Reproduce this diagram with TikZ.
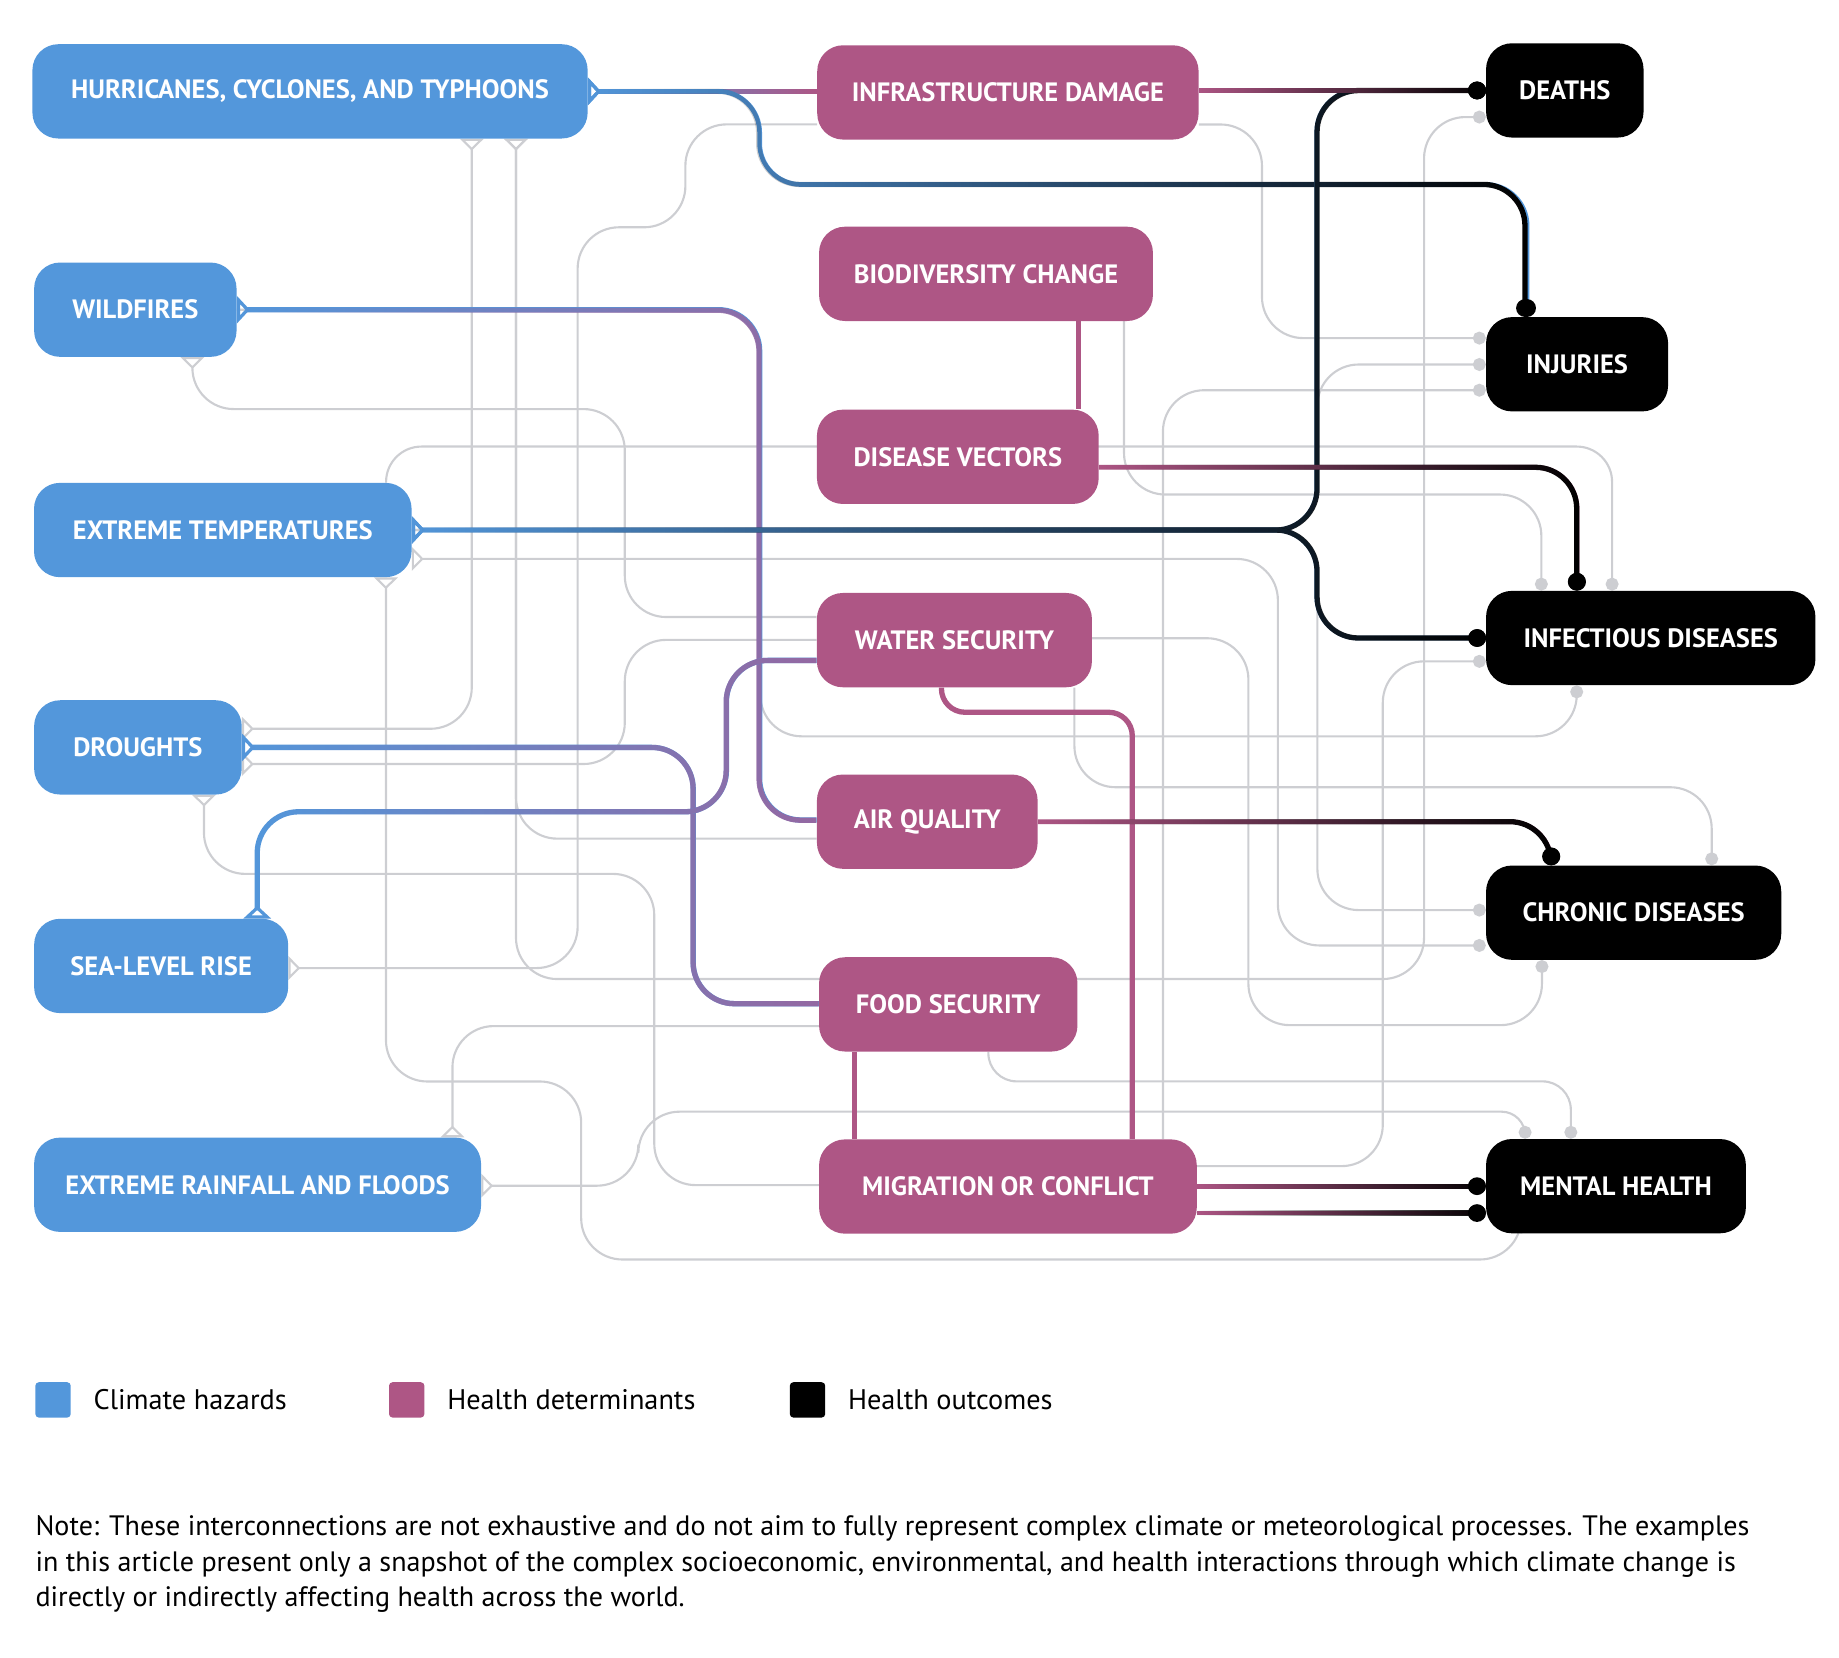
\documentclass[tikz,border=0pt]{standalone}
\usepackage{fontspec}
\setmainfont{PT Sans}
\usepackage{xcolor}
\usetikzlibrary{arrows.meta, positioning, fadings}

\definecolor{hazblue}{HTML}{5397DB}
\definecolor{detmag}{HTML}{AE5685}
\definecolor{linkpurple}{HTML}{9468A2}
\definecolor{linkgray}{HTML}{CDCED2}

\tikzfading[name=fadein, left color=transparent!100, right color=transparent!0]
\pgfdeclarelayer{back}
\pgfsetlayers{back,main}

\tikzset{
  gtri/.tip={Triangle[open, reversed, length=10pt, width=20pt]},
  ctri/.tip={Triangle[open, reversed, length=11pt, width=23pt]},
  gdot/.tip={Circle[length=11pt]},
  bdot/.tip={Circle[length=15pt, color=black]},
}

\begin{document}
\begin{tikzpicture}[x=1pt, y=-1pt,
    box/.style={rectangle, rounded corners=22pt, minimum height=80pt, inner sep=0pt, text=white, font=\fontsize{22.5}{26}\selectfont\bfseries},
    hazard/.style={box, fill=hazblue},
    determ/.style={box, fill=detmag},
    outcome/.style={box, fill=black},
    gline/.style={draw=linkgray, line width=1.8pt, rounded corners=35pt},
    cline/.style={line width=4.5pt, rounded corners=35pt},
    grad/.style 2 args={draw=#1, postaction={draw=#2, line width=4.5pt, path fading=fadein}},
    gradot/.style 2 args={grad={#1}{#2}, line width=4pt},
    legsq/.style={rectangle, rounded corners=3pt, minimum size=30pt, inner sep=0pt},
    legtext/.style={inner sep=0pt, font=\fontsize{24}{28}\selectfont},
    notetext/.style={inner sep=0pt, anchor=base west, font=\fontsize{23.8}{30}\selectfont}]
    \useasboundingbox (0,0) rectangle (1560,1405.7);

    % Nodes
    \node[hazard, minimum width=471pt] (hur) at (263,77.5) {HURRICANES, CYCLONES, AND TYPHOONS};
    \node[hazard, minimum width=171.7pt] (wild) at (114.8,262.7) {WILDFIRES};
    \node[hazard, minimum width=320.3pt] (temp) at (189,449.6) {EXTREME TEMPERATURES};
    \node[hazard, minimum width=176.1pt] (drought) at (117,634) {DROUGHTS};
    \node[hazard, minimum width=215.5pt] (sea) at (136.7,819.4) {SEA-LEVEL RISE};
    \node[hazard, minimum width=379.1pt] (rain) at (218.5,1005) {EXTREME RAINFALL AND FLOODS};

    \node[determ, minimum width=323.5pt] (infra) at (855,78.4) {INFRASTRUCTURE DAMAGE};
    \node[determ, minimum width=283.2pt] (bio) at (836.4,232.3) {BIODIVERSITY CHANGE};
    \node[determ, minimum width=239pt] (vectors) at (812.5,387.5) {DISEASE VECTORS};
    \node[determ, minimum width=233.3pt] (water) at (809.6,543) {WATER SECURITY};
    \node[determ, minimum width=187.2pt] (air) at (786.6,697) {AIR QUALITY};
    \node[determ, minimum width=219.2pt] (food) at (804.4,852) {FOOD SECURITY};
    \node[determ, minimum width=320.4pt] (migr) at (855,1006.5) {MIGRATION OR CONFLICT};

    \node[outcome, minimum width=133.6pt] (deaths) at (1327.4,76.7) {DEATHS};
    \node[outcome, minimum width=154.4pt] (injuries) at (1337.8,309) {INJURIES};
    \node[outcome, minimum width=279.4pt] (infect) at (1400.3,541.2) {INFECTIOUS DISEASES};
    \node[outcome, minimum width=250.4pt] (chronic) at (1385.8,774.2) {CHRONIC DISEASES};
    \node[outcome, minimum width=220.4pt] (mental) at (1370.8,1006.2) {MENTAL HEALTH};

    % Legend
    \node[legsq, fill=hazblue] (leghaz) at (45,1187.5) {};
    \node[legtext, right=19pt of leghaz] {Climate hazards};
    \node[legsq, fill=detmag] (legdet) at (345,1187.5) {};
    \node[legtext, right=19pt of legdet] {Health determinants};
    \node[legsq, fill=black] (legout) at (685,1187.5) {};
    \node[legtext, right=19pt of legout] {Health outcomes};

    % Note
    \node[notetext] (note1) at (30,1302.6) {Note: These interconnections are not exhaustive and do not aim to fully represent complex climate or meteorological processes. The examples};
    \node[notetext] (note2) at (30,1333) {in this article present only a snapshot of the complex socioeconomic, environmental, and health interactions through which climate change is};
    \node[notetext] (note3) at (30,1362.8) {directly or indirectly affecting health across the world.};

    % Edges
    \begin{pgfonlayer}{back}
    % grey links
    \draw[gline, gtri-gtri] (hur.south -| 400.2,0) |- (drought.east |- 0,618.2);
    \draw[gline, gtri-] (hur.south -| 437.7,0) |- (air.west |- 0,711.4);
    \draw[gline, gtri-gdot] (hur.south -| 437.7,0) |- (1208,830.5) |- (deaths.west |- 0,99.3);
    \draw[gline, gtri-] (wild.south -| 163.2,0) |- (530,347) |- (water.west |- 0,523.4);
    \draw[gline, -gdot] (wild.east) -| (645,624.6) -| (infect.south -| 1337.5,0);
    \draw[gline, -gdot, rounded corners=30pt] (temp.north -| 327.5,0) |- (1367.5,378.8) -- (infect.north -| 1367.5,0);
    \draw[gline, gtri-gdot] (temp.east |- 0,474.1) -| (1084,802) -- (chronic.west |- 0,802);
    \draw[gline, -gdot] (temp.east) -| (1117.5,309.2) -- (injuries.west |- 0,309.2);
    \draw[gline, -gdot] (temp.east) -| (1117.5,772) -- (chronic.west |- 0,772);
    \draw[gline, gtri-gdot] (temp.south -| 327.4,0) |- (493,917.4) |- (1290.4,1068.4) [rounded corners=18pt] -- (mental.south -| 1290.4,0);
    \draw[gline, gtri-] (drought.east |- 0,648.1) -| (530,542.8) -- (water.west |- 0,542.8);
    \draw[gline, gtri-] (drought.south -| 173,0) |- (555,741.3) |- (migr.west |- 0,1005.3);
    \draw[gline, gtri-] (sea.east |- 0,821.2) -| (490,192.8) -| (581.4,105.5) -- (infra.west |- 0,105.5);
    \draw[gline, gtri-] (rain.north -| 383.8,0) |- (food.west |- 0,870.4);
    \draw[gline, gtri-gdot] (rain.east |- 0,1005.8) -| (541.5,943) [rounded corners=20pt] -| (mental.north -| 1293.7,0);
    \draw[gline, -gdot] (infra.east |- 0,105.6) -| (1070.5,286.8) -- (injuries.west |- 0,286.8);
    \draw[gline, -gdot] (bio.south -| 953.5,0) |- (1307.5,419.5) -- (infect.north -| 1307.5,0);
    \draw[gline, -gdot] (water.east |- 0,541.4) -| (1059,869.6) -| (chronic.south -| 1308,0);
    \draw[gline, -gdot] (water.south -| 911.4,0) |- (1452,667.8) -- (chronic.north -| 1452,0);
    \draw[gline, -gdot, rounded corners=24pt] (food.south -| 838.4,0) |- (1332.5,917.3) -- (mental.north -| 1332.5,0);
    \draw[gline, -gdot] (migr.north -| 986.5,0) |- (injuries.west |- 0,331);
    \draw[gline, -gdot] (migr.east |- 0,989.2) -| (1173,561) -- (infect.west |- 0,561);

    % coloured links
    \draw[cline, grad={hazblue}{detmag}, ctri-] (hur.east) -- (infra.west |- hur.east);
    \draw[cline, gradot={hazblue}{black}, ctri-bdot] (hur.east) -| (644.4,156.5) -| (injuries.north -| 1295.4,0);
    \draw[cline, grad={hazblue}{linkpurple}, ctri-] (wild.east) -| (644.4,695.6) -- (air.west |- 0,695.6);
    \draw[cline, gradot={hazblue}{black}, ctri-bdot] (temp.east) -| (1117,76.7) -- (deaths.west);
    \draw[cline, gradot={hazblue}{black}, ctri-bdot] (temp.east) -| (1117,541.2) -- (infect.west);
    \draw[cline, grad={hazblue}{linkpurple}, ctri-] (drought.east) -| (588,851.4) -- (food.west |- 0,851.4);
    \draw[cline, grad={hazblue}{linkpurple}, ctri-] (sea.north -| 218.2,0) |- (616.2,688.6) |- (water.west |- 0,560.2);
    \draw[cline, gradot={detmag}{black}, -bdot] (infra.east |- deaths.west) -- (deaths.west);
    \draw[cline, draw=detmag] (bio.south -| 914.7,0) -- (vectors.north -| 914.7,0);
    \draw[cline, gradot={detmag}{black}, -bdot] (vectors.east |- 0,396.4) -| (infect.north -| 1337.8,0);
    \draw[cline, draw=detmag, rounded corners=20pt] (water.south -| 798.6,0) |- (960.5,604.2) -- (migr.north -| 960.5,0);
    \draw[cline, gradot={detmag}{black}, -bdot] (air.east) -| (chronic.north -| 1316,0);
    \draw[cline, draw=detmag] (food.south -| 725,0) -- (migr.north -| 725,0);
    \draw[cline, gradot={detmag}{black}, -bdot] (migr.east |- 0,1006.2) -- (mental.west |- 0,1006.2);
    \draw[cline, gradot={detmag}{black}, -bdot] (migr.east |- 0,1029) -- (mental.west |- 0,1029);
    \end{pgfonlayer}
\end{tikzpicture}
\end{document}
